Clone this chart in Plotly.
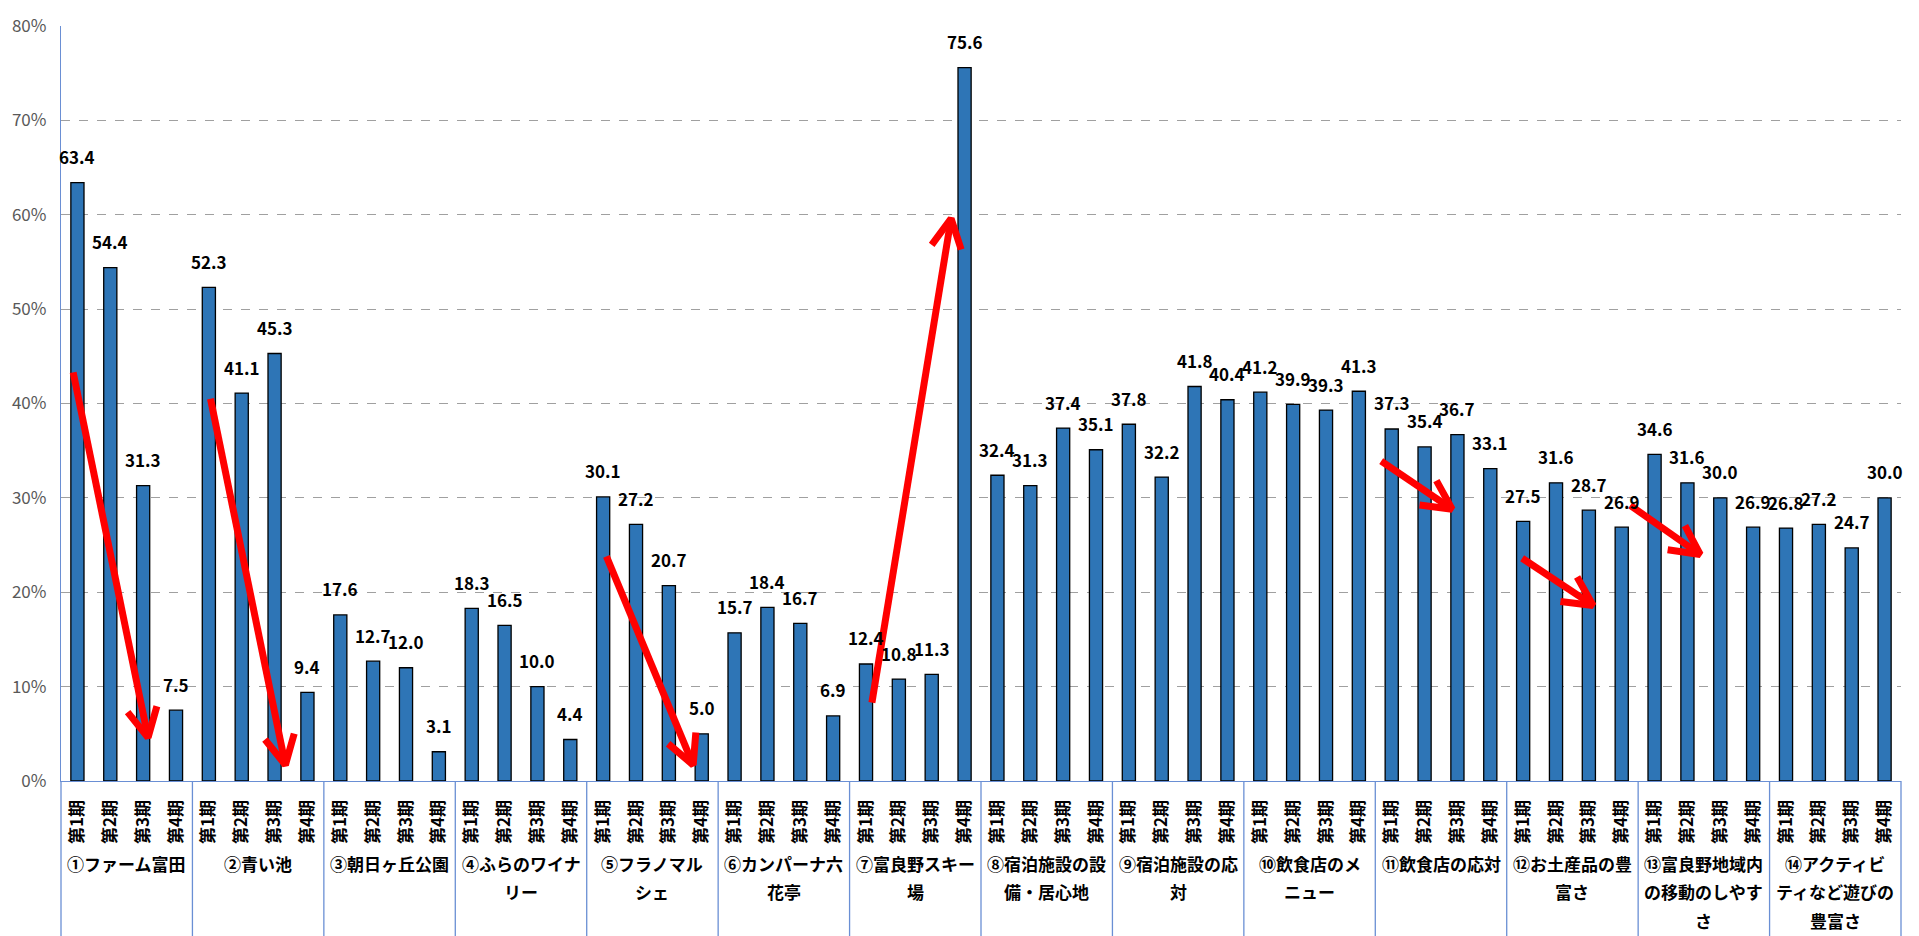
import math
import plotly.graph_objects as go

# --- data -----------------------------------------------------------------
periods = ["第1期", "第2期", "第3期", "第4期"]

group_lines = [
    ["①ファーム富田"],
    ["②青い池"],
    ["③朝日ヶ丘公園"],
    ["④ふらのワイナ", "リー"],
    ["⑤フラノマル", "シェ"],
    ["⑥カンパーナ六", "花亭"],
    ["⑦富良野スキー", "場"],
    ["⑧宿泊施設の設", "備・居心地"],
    ["⑨宿泊施設の応", "対"],
    ["⑩飲食店のメ", "ニュー"],
    ["⑪飲食店の応対"],
    ["⑫お土産品の豊", "富さ"],
    ["⑬富良野地域内", "の移動のしやす", "さ"],
    ["⑭アクティビ", "ティなど遊びの", "豊富さ"],
]

rates = [
    [63.4, 54.4, 31.3, 7.5],
    [52.3, 41.1, 45.3, 9.4],
    [17.6, 12.7, 12.0, 3.1],
    [18.3, 16.5, 10.0, 4.4],
    [30.1, 27.2, 20.7, 5.0],
    [15.7, 18.4, 16.7, 6.9],
    [12.4, 10.8, 11.3, 75.6],
    [32.4, 31.3, 37.4, 35.1],
    [37.8, 32.2, 41.8, 40.4],
    [41.2, 39.9, 39.3, 41.3],
    [37.3, 35.4, 36.7, 33.1],
    [27.5, 31.6, 28.7, 26.9],
    [34.6, 31.6, 30.0, 26.9],
    [26.8, 27.2, 24.7, 30.0],
]

y_ticks = [0, 10, 20, 30, 40, 50, 60, 70, 80]
y_tick_labels = ["0%", "10%", "20%", "30%", "40%", "50%", "60%", "70%", "80%"]

# red trend arrows: (tail x, tail y, head x, head y) in bar-index / % units
arrows = [
    (-0.13, 43.3, 2.15, 4.6),
    (4.05, 40.5, 6.33, 1.7),
    (16.1, 23.8, 18.74, 1.7),
    (24.18, 8.3, 26.59, 59.6),
    (39.68, 33.9, 41.84, 28.8),
    (43.97, 23.6, 46.13, 18.6),
    (47.26, 29.2, 49.39, 24.0),
]

# --- layout geometry --------------------------------------------------------
W, H = 1919, 936
ML, MR, MT, MB = 59, 18, 15, 155
PW, PH = W - ML - MR, H - MT - MB
AXIS_BLUE = "#6A8FD4"
FONT = "Noto Sans CJK JP"

n_groups = len(rates)
n_per = len(periods)
n_bars = n_groups * n_per
xs = list(range(n_bars))
ys = [v for row in rates for v in row]

fig = go.Figure()
fig.add_trace(go.Bar(
    x=xs, y=ys,
    marker=dict(color="#2E75B6", line=dict(color="black", width=1.3)),
    hoverinfo="skip",
    showlegend=False,
))

# value labels above bars
for x, v in zip(xs, ys):
    fig.add_annotation(
        x=x, y=v, text=f"{v:.1f}", showarrow=False,
        yanchor="middle", yshift=26,
        font=dict(family=FONT, size=17, color="black", weight="bold"),
    )

# group labels under the period ticks
for g, lines in enumerate(group_lines):
    for k, line in enumerate(lines):
        fig.add_annotation(
            x=g * n_per + (n_per - 1) / 2, y=0, yref="paper",
            text=line, showarrow=False, yanchor="middle",
            yshift=-82 - 28.5 * k,
            font=dict(family=FONT, size=17, color="black", weight="bold"),
        )

# group separators below the axis
for g in range(n_groups + 1):
    xp = g * n_per / n_bars
    fig.add_shape(type="line", xref="paper", yref="paper",
                  x0=xp, x1=xp, y0=0, y1=-MB / PH - 0.01,
                  line=dict(color=AXIS_BLUE, width=1.3))

# arrows drawn as shaft + chevron head
sx = PW / n_bars      # px per bar slot
sy = PH / 80.0        # px per %
for x0, y0, x1, y1 in arrows:
    dx, dy = (x1 - x0) * sx, (y1 - y0) * sy
    ang = math.atan2(dy, dx)
    hx, hy = [], []
    for d in (-0.47, 0.47):
        a = ang + math.pi + d
        hx.append(x1 + 33 * math.cos(a) / sx)
        hy.append(y1 + 33 * math.sin(a) / sy)
    fig.add_trace(go.Scatter(
        x=[x0, x1, None, hx[0], x1, hx[1]],
        y=[y0, y1, None, hy[0], y1, hy[1]],
        mode="lines", line=dict(color="#FF0000", width=7),
        hoverinfo="skip", showlegend=False, cliponaxis=False,
    ))

fig.update_layout(
    width=W, height=H,
    margin=dict(l=ML, r=MR, t=MT, b=MB),
    plot_bgcolor="white", paper_bgcolor="white",
    bargap=0.6,
    font=dict(family=FONT),
    xaxis=dict(
        range=[-0.5, n_bars - 0.5],
        tickvals=xs, ticktext=periods * n_groups,
        tickangle=-90,
        tickfont=dict(family=FONT, size=17, color="black", weight="bold"),
        ticks="", ticklabelstandoff=11,
        showgrid=False, zeroline=False,
        showline=True, linecolor=AXIS_BLUE, linewidth=1.3,
    ),
    yaxis=dict(
        range=[0, 80], tickvals=y_ticks, ticktext=y_tick_labels,
        tickfont=dict(family=FONT, size=17, color="#595959"),
        ticks="", ticklabelstandoff=10,
        showgrid=True, gridcolor="#A0A0A0", gridwidth=1, griddash="dash",
        zeroline=False,
        showline=True, linecolor=AXIS_BLUE, linewidth=1.3,
    ),
)

fig.write_html(
    "out.html",
    config={"displayModeBar": False},
    post_script="document.body.style.margin='0';document.body.style.overflow='hidden';",
)
